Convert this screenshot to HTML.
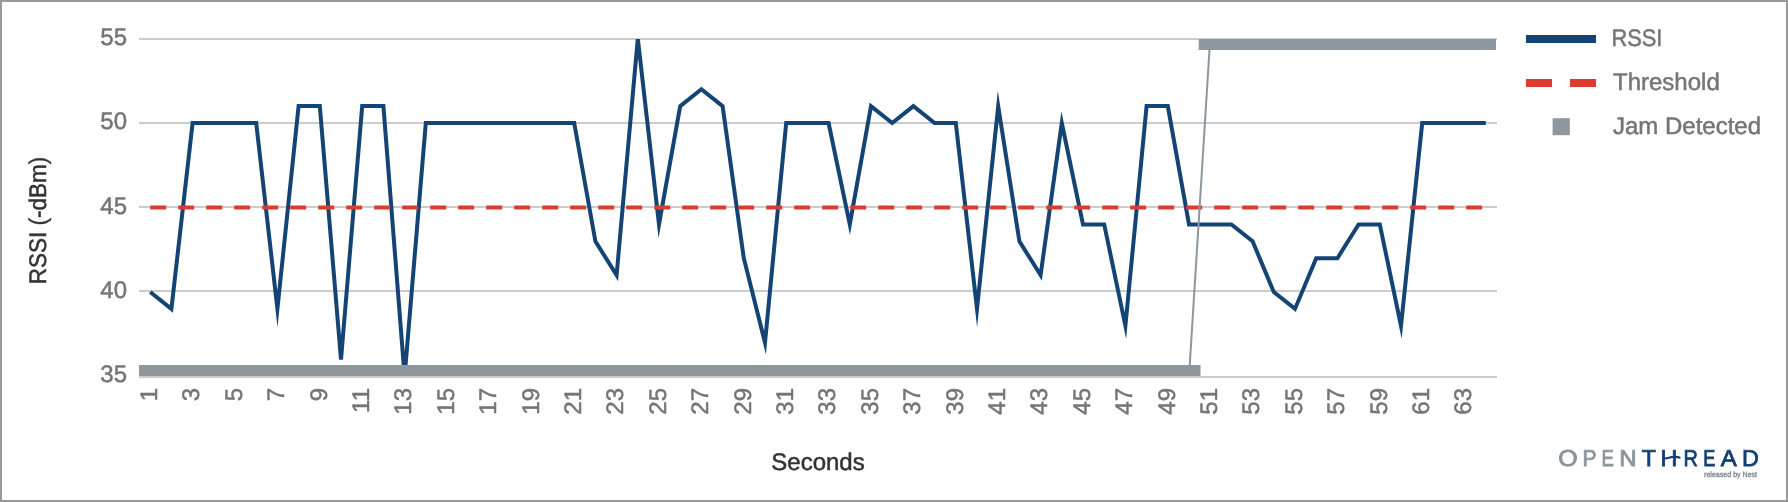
<!DOCTYPE html><html><head><meta charset="utf-8"><title>RSSI chart</title><style>
html,body{margin:0;padding:0;background:#fff;}
.frame{position:relative;width:1788px;height:502px;box-sizing:border-box;border:2px solid #999;background:#fff;overflow:hidden;}
svg{position:absolute;left:-2px;top:-2px;will-change:transform;}
text{font-family:'Liberation Sans', Arial, sans-serif;text-rendering:geometricPrecision;}
</style></head><body><div class="frame">
<svg width="1788" height="502" viewBox="0 0 1788 502">
<defs><clipPath id="ca"><rect x="139" y="39" width="1357" height="337"/></clipPath></defs>
<rect x="139" y="38" width="1358" height="2" fill="#cccccc"/>
<rect x="139" y="122" width="1358" height="2" fill="#cccccc"/>
<rect x="139" y="206" width="1358" height="2" fill="#cccccc"/>
<rect x="139" y="290" width="1358" height="2" fill="#cccccc"/>
<rect x="139" y="376" width="1358" height="2" fill="#cccccc"/>
<text x="127.00" y="45.35" text-anchor="end" font-size="24" fill="#757575" stroke="#757575" stroke-width="0.5">55</text>
<text x="127.00" y="129.35" text-anchor="end" font-size="24" fill="#757575" stroke="#757575" stroke-width="0.5">50</text>
<text x="127.00" y="214.25" text-anchor="end" font-size="24" fill="#757575" stroke="#757575" stroke-width="0.5">45</text>
<text x="127.00" y="298.25" text-anchor="end" font-size="24" fill="#757575" stroke="#757575" stroke-width="0.5">40</text>
<text x="127.00" y="382.45" text-anchor="end" font-size="24" fill="#757575" stroke="#757575" stroke-width="0.5">35</text>
<text transform="translate(157.00,388.00) rotate(-90)" text-anchor="end" font-size="24" fill="#757575" stroke="#757575" stroke-width="0.5">1</text>
<text transform="translate(199.40,388.00) rotate(-90)" text-anchor="end" font-size="24" fill="#757575" stroke="#757575" stroke-width="0.5">3</text>
<text transform="translate(241.80,388.00) rotate(-90)" text-anchor="end" font-size="24" fill="#757575" stroke="#757575" stroke-width="0.5">5</text>
<text transform="translate(284.20,388.00) rotate(-90)" text-anchor="end" font-size="24" fill="#757575" stroke="#757575" stroke-width="0.5">7</text>
<text transform="translate(326.60,388.00) rotate(-90)" text-anchor="end" font-size="24" fill="#757575" stroke="#757575" stroke-width="0.5">9</text>
<text transform="translate(369.00,388.00) rotate(-90)" text-anchor="end" font-size="24" fill="#757575" stroke="#757575" stroke-width="0.5">11</text>
<text transform="translate(411.40,388.00) rotate(-90)" text-anchor="end" font-size="24" fill="#757575" stroke="#757575" stroke-width="0.5">13</text>
<text transform="translate(453.80,388.00) rotate(-90)" text-anchor="end" font-size="24" fill="#757575" stroke="#757575" stroke-width="0.5">15</text>
<text transform="translate(496.20,388.00) rotate(-90)" text-anchor="end" font-size="24" fill="#757575" stroke="#757575" stroke-width="0.5">17</text>
<text transform="translate(538.60,388.00) rotate(-90)" text-anchor="end" font-size="24" fill="#757575" stroke="#757575" stroke-width="0.5">19</text>
<text transform="translate(581.00,388.00) rotate(-90)" text-anchor="end" font-size="24" fill="#757575" stroke="#757575" stroke-width="0.5">21</text>
<text transform="translate(623.40,388.00) rotate(-90)" text-anchor="end" font-size="24" fill="#757575" stroke="#757575" stroke-width="0.5">23</text>
<text transform="translate(665.80,388.00) rotate(-90)" text-anchor="end" font-size="24" fill="#757575" stroke="#757575" stroke-width="0.5">25</text>
<text transform="translate(708.20,388.00) rotate(-90)" text-anchor="end" font-size="24" fill="#757575" stroke="#757575" stroke-width="0.5">27</text>
<text transform="translate(750.60,388.00) rotate(-90)" text-anchor="end" font-size="24" fill="#757575" stroke="#757575" stroke-width="0.5">29</text>
<text transform="translate(793.00,388.00) rotate(-90)" text-anchor="end" font-size="24" fill="#757575" stroke="#757575" stroke-width="0.5">31</text>
<text transform="translate(835.40,388.00) rotate(-90)" text-anchor="end" font-size="24" fill="#757575" stroke="#757575" stroke-width="0.5">33</text>
<text transform="translate(877.80,388.00) rotate(-90)" text-anchor="end" font-size="24" fill="#757575" stroke="#757575" stroke-width="0.5">35</text>
<text transform="translate(920.20,388.00) rotate(-90)" text-anchor="end" font-size="24" fill="#757575" stroke="#757575" stroke-width="0.5">37</text>
<text transform="translate(962.60,388.00) rotate(-90)" text-anchor="end" font-size="24" fill="#757575" stroke="#757575" stroke-width="0.5">39</text>
<text transform="translate(1005.00,388.00) rotate(-90)" text-anchor="end" font-size="24" fill="#757575" stroke="#757575" stroke-width="0.5">41</text>
<text transform="translate(1047.40,388.00) rotate(-90)" text-anchor="end" font-size="24" fill="#757575" stroke="#757575" stroke-width="0.5">43</text>
<text transform="translate(1089.80,388.00) rotate(-90)" text-anchor="end" font-size="24" fill="#757575" stroke="#757575" stroke-width="0.5">45</text>
<text transform="translate(1132.20,388.00) rotate(-90)" text-anchor="end" font-size="24" fill="#757575" stroke="#757575" stroke-width="0.5">47</text>
<text transform="translate(1174.60,388.00) rotate(-90)" text-anchor="end" font-size="24" fill="#757575" stroke="#757575" stroke-width="0.5">49</text>
<text transform="translate(1217.00,388.00) rotate(-90)" text-anchor="end" font-size="24" fill="#757575" stroke="#757575" stroke-width="0.5">51</text>
<text transform="translate(1259.40,388.00) rotate(-90)" text-anchor="end" font-size="24" fill="#757575" stroke="#757575" stroke-width="0.5">53</text>
<text transform="translate(1301.80,388.00) rotate(-90)" text-anchor="end" font-size="24" fill="#757575" stroke="#757575" stroke-width="0.5">55</text>
<text transform="translate(1344.20,388.00) rotate(-90)" text-anchor="end" font-size="24" fill="#757575" stroke="#757575" stroke-width="0.5">57</text>
<text transform="translate(1386.60,388.00) rotate(-90)" text-anchor="end" font-size="24" fill="#757575" stroke="#757575" stroke-width="0.5">59</text>
<text transform="translate(1429.00,388.00) rotate(-90)" text-anchor="end" font-size="24" fill="#757575" stroke="#757575" stroke-width="0.5">61</text>
<text transform="translate(1471.40,388.00) rotate(-90)" text-anchor="end" font-size="24" fill="#757575" stroke="#757575" stroke-width="0.5">63</text>
<g clip-path="url(#ca)">
<polyline points="150.20,292.00 171.40,308.90 192.60,123.00 213.80,123.00 235.00,123.00 256.20,123.00 277.40,308.90 298.60,106.10 319.80,106.10 341.00,359.60 362.20,106.10 383.40,106.10 404.60,376.50 425.80,123.00 447.00,123.00 468.20,123.00 489.40,123.00 510.60,123.00 531.80,123.00 553.00,123.00 574.20,123.00 595.40,241.30 616.60,275.10 637.80,38.50 659.00,224.40 680.20,106.10 701.40,89.20 722.60,106.10 743.80,258.20 765.00,342.70 786.20,123.00 807.40,123.00 828.60,123.00 849.80,224.40 871.00,106.10 892.20,123.00 913.40,106.10 934.60,123.00 955.80,123.00 977.00,308.90 998.20,106.10 1019.40,241.30 1040.60,275.10 1061.80,123.00 1083.00,224.40 1104.20,224.40 1125.40,325.80 1146.60,106.10 1167.80,106.10 1189.00,224.40 1210.20,224.40 1231.40,224.40 1252.60,241.30 1273.80,292.00 1295.00,308.90 1316.20,258.20 1337.40,258.20 1358.60,224.40 1379.80,224.40 1401.00,325.80 1422.20,123.00 1443.40,123.00 1464.60,123.00 1485.80,123.00" fill="none" stroke="#134474" stroke-width="4" stroke-miterlimit="10"/>
<line x1="150.2" y1="207.5" x2="1485.8" y2="207.5" stroke="#db3c30" stroke-width="4" stroke-dasharray="16 12"/>
<polyline points="150.20,376.50 171.40,376.50 192.60,376.50 213.80,376.50 235.00,376.50 256.20,376.50 277.40,376.50 298.60,376.50 319.80,376.50 341.00,376.50 362.20,376.50 383.40,376.50 404.60,376.50 425.80,376.50 447.00,376.50 468.20,376.50 489.40,376.50 510.60,376.50 531.80,376.50 553.00,376.50 574.20,376.50 595.40,376.50 616.60,376.50 637.80,376.50 659.00,376.50 680.20,376.50 701.40,376.50 722.60,376.50 743.80,376.50 765.00,376.50 786.20,376.50 807.40,376.50 828.60,376.50 849.80,376.50 871.00,376.50 892.20,376.50 913.40,376.50 934.60,376.50 955.80,376.50 977.00,376.50 998.20,376.50 1019.40,376.50 1040.60,376.50 1061.80,376.50 1083.00,376.50 1104.20,376.50 1125.40,376.50 1146.60,376.50 1167.80,376.50 1189.00,376.50 1210.20,38.50 1231.40,38.50 1252.60,38.50 1273.80,38.50 1295.00,38.50 1316.20,38.50 1337.40,38.50 1358.60,38.50 1379.80,38.50 1401.00,38.50 1422.20,38.50 1443.40,38.50 1464.60,38.50 1485.80,38.50" fill="none" stroke="#8e969e" stroke-width="2"/>
<rect x="138.70" y="365.00" width="23" height="23" fill="#8e969e"/>
<rect x="159.90" y="365.00" width="23" height="23" fill="#8e969e"/>
<rect x="181.10" y="365.00" width="23" height="23" fill="#8e969e"/>
<rect x="202.30" y="365.00" width="23" height="23" fill="#8e969e"/>
<rect x="223.50" y="365.00" width="23" height="23" fill="#8e969e"/>
<rect x="244.70" y="365.00" width="23" height="23" fill="#8e969e"/>
<rect x="265.90" y="365.00" width="23" height="23" fill="#8e969e"/>
<rect x="287.10" y="365.00" width="23" height="23" fill="#8e969e"/>
<rect x="308.30" y="365.00" width="23" height="23" fill="#8e969e"/>
<rect x="329.50" y="365.00" width="23" height="23" fill="#8e969e"/>
<rect x="350.70" y="365.00" width="23" height="23" fill="#8e969e"/>
<rect x="371.90" y="365.00" width="23" height="23" fill="#8e969e"/>
<rect x="393.10" y="365.00" width="23" height="23" fill="#8e969e"/>
<rect x="414.30" y="365.00" width="23" height="23" fill="#8e969e"/>
<rect x="435.50" y="365.00" width="23" height="23" fill="#8e969e"/>
<rect x="456.70" y="365.00" width="23" height="23" fill="#8e969e"/>
<rect x="477.90" y="365.00" width="23" height="23" fill="#8e969e"/>
<rect x="499.10" y="365.00" width="23" height="23" fill="#8e969e"/>
<rect x="520.30" y="365.00" width="23" height="23" fill="#8e969e"/>
<rect x="541.50" y="365.00" width="23" height="23" fill="#8e969e"/>
<rect x="562.70" y="365.00" width="23" height="23" fill="#8e969e"/>
<rect x="583.90" y="365.00" width="23" height="23" fill="#8e969e"/>
<rect x="605.10" y="365.00" width="23" height="23" fill="#8e969e"/>
<rect x="626.30" y="365.00" width="23" height="23" fill="#8e969e"/>
<rect x="647.50" y="365.00" width="23" height="23" fill="#8e969e"/>
<rect x="668.70" y="365.00" width="23" height="23" fill="#8e969e"/>
<rect x="689.90" y="365.00" width="23" height="23" fill="#8e969e"/>
<rect x="711.10" y="365.00" width="23" height="23" fill="#8e969e"/>
<rect x="732.30" y="365.00" width="23" height="23" fill="#8e969e"/>
<rect x="753.50" y="365.00" width="23" height="23" fill="#8e969e"/>
<rect x="774.70" y="365.00" width="23" height="23" fill="#8e969e"/>
<rect x="795.90" y="365.00" width="23" height="23" fill="#8e969e"/>
<rect x="817.10" y="365.00" width="23" height="23" fill="#8e969e"/>
<rect x="838.30" y="365.00" width="23" height="23" fill="#8e969e"/>
<rect x="859.50" y="365.00" width="23" height="23" fill="#8e969e"/>
<rect x="880.70" y="365.00" width="23" height="23" fill="#8e969e"/>
<rect x="901.90" y="365.00" width="23" height="23" fill="#8e969e"/>
<rect x="923.10" y="365.00" width="23" height="23" fill="#8e969e"/>
<rect x="944.30" y="365.00" width="23" height="23" fill="#8e969e"/>
<rect x="965.50" y="365.00" width="23" height="23" fill="#8e969e"/>
<rect x="986.70" y="365.00" width="23" height="23" fill="#8e969e"/>
<rect x="1007.90" y="365.00" width="23" height="23" fill="#8e969e"/>
<rect x="1029.10" y="365.00" width="23" height="23" fill="#8e969e"/>
<rect x="1050.30" y="365.00" width="23" height="23" fill="#8e969e"/>
<rect x="1071.50" y="365.00" width="23" height="23" fill="#8e969e"/>
<rect x="1092.70" y="365.00" width="23" height="23" fill="#8e969e"/>
<rect x="1113.90" y="365.00" width="23" height="23" fill="#8e969e"/>
<rect x="1135.10" y="365.00" width="23" height="23" fill="#8e969e"/>
<rect x="1156.30" y="365.00" width="23" height="23" fill="#8e969e"/>
<rect x="1177.50" y="365.00" width="23" height="23" fill="#8e969e"/>
<rect x="1198.70" y="27.00" width="23" height="23" fill="#8e969e"/>
<rect x="1219.90" y="27.00" width="23" height="23" fill="#8e969e"/>
<rect x="1241.10" y="27.00" width="23" height="23" fill="#8e969e"/>
<rect x="1262.30" y="27.00" width="23" height="23" fill="#8e969e"/>
<rect x="1283.50" y="27.00" width="23" height="23" fill="#8e969e"/>
<rect x="1304.70" y="27.00" width="23" height="23" fill="#8e969e"/>
<rect x="1325.90" y="27.00" width="23" height="23" fill="#8e969e"/>
<rect x="1347.10" y="27.00" width="23" height="23" fill="#8e969e"/>
<rect x="1368.30" y="27.00" width="23" height="23" fill="#8e969e"/>
<rect x="1389.50" y="27.00" width="23" height="23" fill="#8e969e"/>
<rect x="1410.70" y="27.00" width="23" height="23" fill="#8e969e"/>
<rect x="1431.90" y="27.00" width="23" height="23" fill="#8e969e"/>
<rect x="1453.10" y="27.00" width="23" height="23" fill="#8e969e"/>
<rect x="1474.30" y="27.00" width="23" height="23" fill="#8e969e"/>
</g>
<text x="818.00" y="469.60" text-anchor="middle" font-size="24" fill="#333333" stroke="#333333" stroke-width="0.5">Seconds</text>
<text transform="translate(46.00,220.40) rotate(-90)" text-anchor="middle" font-size="24" fill="#333333" stroke="#333333" stroke-width="0.5" textLength="127.5" lengthAdjust="spacingAndGlyphs">RSSI (-dBm)</text>
<rect x="1526" y="35" width="70" height="8" fill="#134474"/>
<rect x="1526" y="79" width="26" height="8" fill="#db3c30"/>
<rect x="1570" y="79" width="26" height="8" fill="#db3c30"/>
<rect x="1552.6" y="118.2" width="17.2" height="17" fill="#8e969e"/>
<text x="1611.40" y="46.00" font-size="24" fill="#757575" stroke="#757575" stroke-width="0.5" textLength="51" lengthAdjust="spacingAndGlyphs">RSSI</text>
<text x="1613.00" y="90.00" font-size="24" fill="#757575" stroke="#757575" stroke-width="0.5">Threshold</text>
<text x="1613.00" y="134.00" font-size="24" fill="#757575" stroke="#757575" stroke-width="0.5">Jam Detected</text>
<g aria-label="OPENTHREAD">
<text text-rendering="geometricPrecision" transform="translate(1558.25,466.00) scale(1.0848,1)" font-size="23" fill="#8a949b" stroke="#8a949b" stroke-width="0.8">O</text>
<text text-rendering="geometricPrecision" transform="translate(1582.54,466.00) scale(0.9125,1)" font-size="23" fill="#8a949b" stroke="#8a949b" stroke-width="0.8">P</text>
<text text-rendering="geometricPrecision" transform="translate(1601.40,466.00) scale(0.8066,1)" font-size="23" fill="#8a949b" stroke="#8a949b" stroke-width="0.8">E</text>
<text text-rendering="geometricPrecision" transform="translate(1619.24,466.00) scale(1.0478,1)" font-size="23" fill="#8a949b" stroke="#8a949b" stroke-width="0.8">N</text>
<text text-rendering="geometricPrecision" transform="translate(1641.68,466.00) scale(1.0069,1)" font-size="23" fill="#123f72" stroke="#123f72" stroke-width="0.8">T</text>
<text text-rendering="geometricPrecision" transform="translate(1660.60,466.00) scale(1.0112,1)" font-size="23" fill="#123f72" stroke="#123f72" stroke-width="0.8">H</text>
<text text-rendering="geometricPrecision" transform="translate(1683.51,466.00) scale(0.8647,1)" font-size="23" fill="#123f72" stroke="#123f72" stroke-width="0.8">R</text>
<text text-rendering="geometricPrecision" transform="translate(1703.13,466.00) scale(0.7840,1)" font-size="23" fill="#123f72" stroke="#123f72" stroke-width="0.8">E</text>
<text text-rendering="geometricPrecision" transform="translate(1720.77,466.00) scale(1.0467,1)" font-size="23" fill="#123f72" stroke="#123f72" stroke-width="0.8">A</text>
<text text-rendering="geometricPrecision" transform="translate(1742.09,466.00) scale(1.0123,1)" font-size="23" fill="#123f72" stroke="#123f72" stroke-width="0.8">D</text>
</g>
<rect x="1665.0" y="455.2" width="8.1" height="5.2" fill="#fff"/>
<path d="M1664.6 458.5 C1667.5 458.6 1670 457.1 1673.5 456.9 C1676 456.8 1678.3 456.7 1679.6 457.6" fill="none" stroke="#123f72" stroke-width="2.1" stroke-linecap="round"/>
<text x="1704.1" y="476.8" font-size="7.8" fill="#79838a" stroke="#79838a" stroke-width="0.3" textLength="53" lengthAdjust="spacingAndGlyphs">released by Nest</text>
</svg></div></body></html>
